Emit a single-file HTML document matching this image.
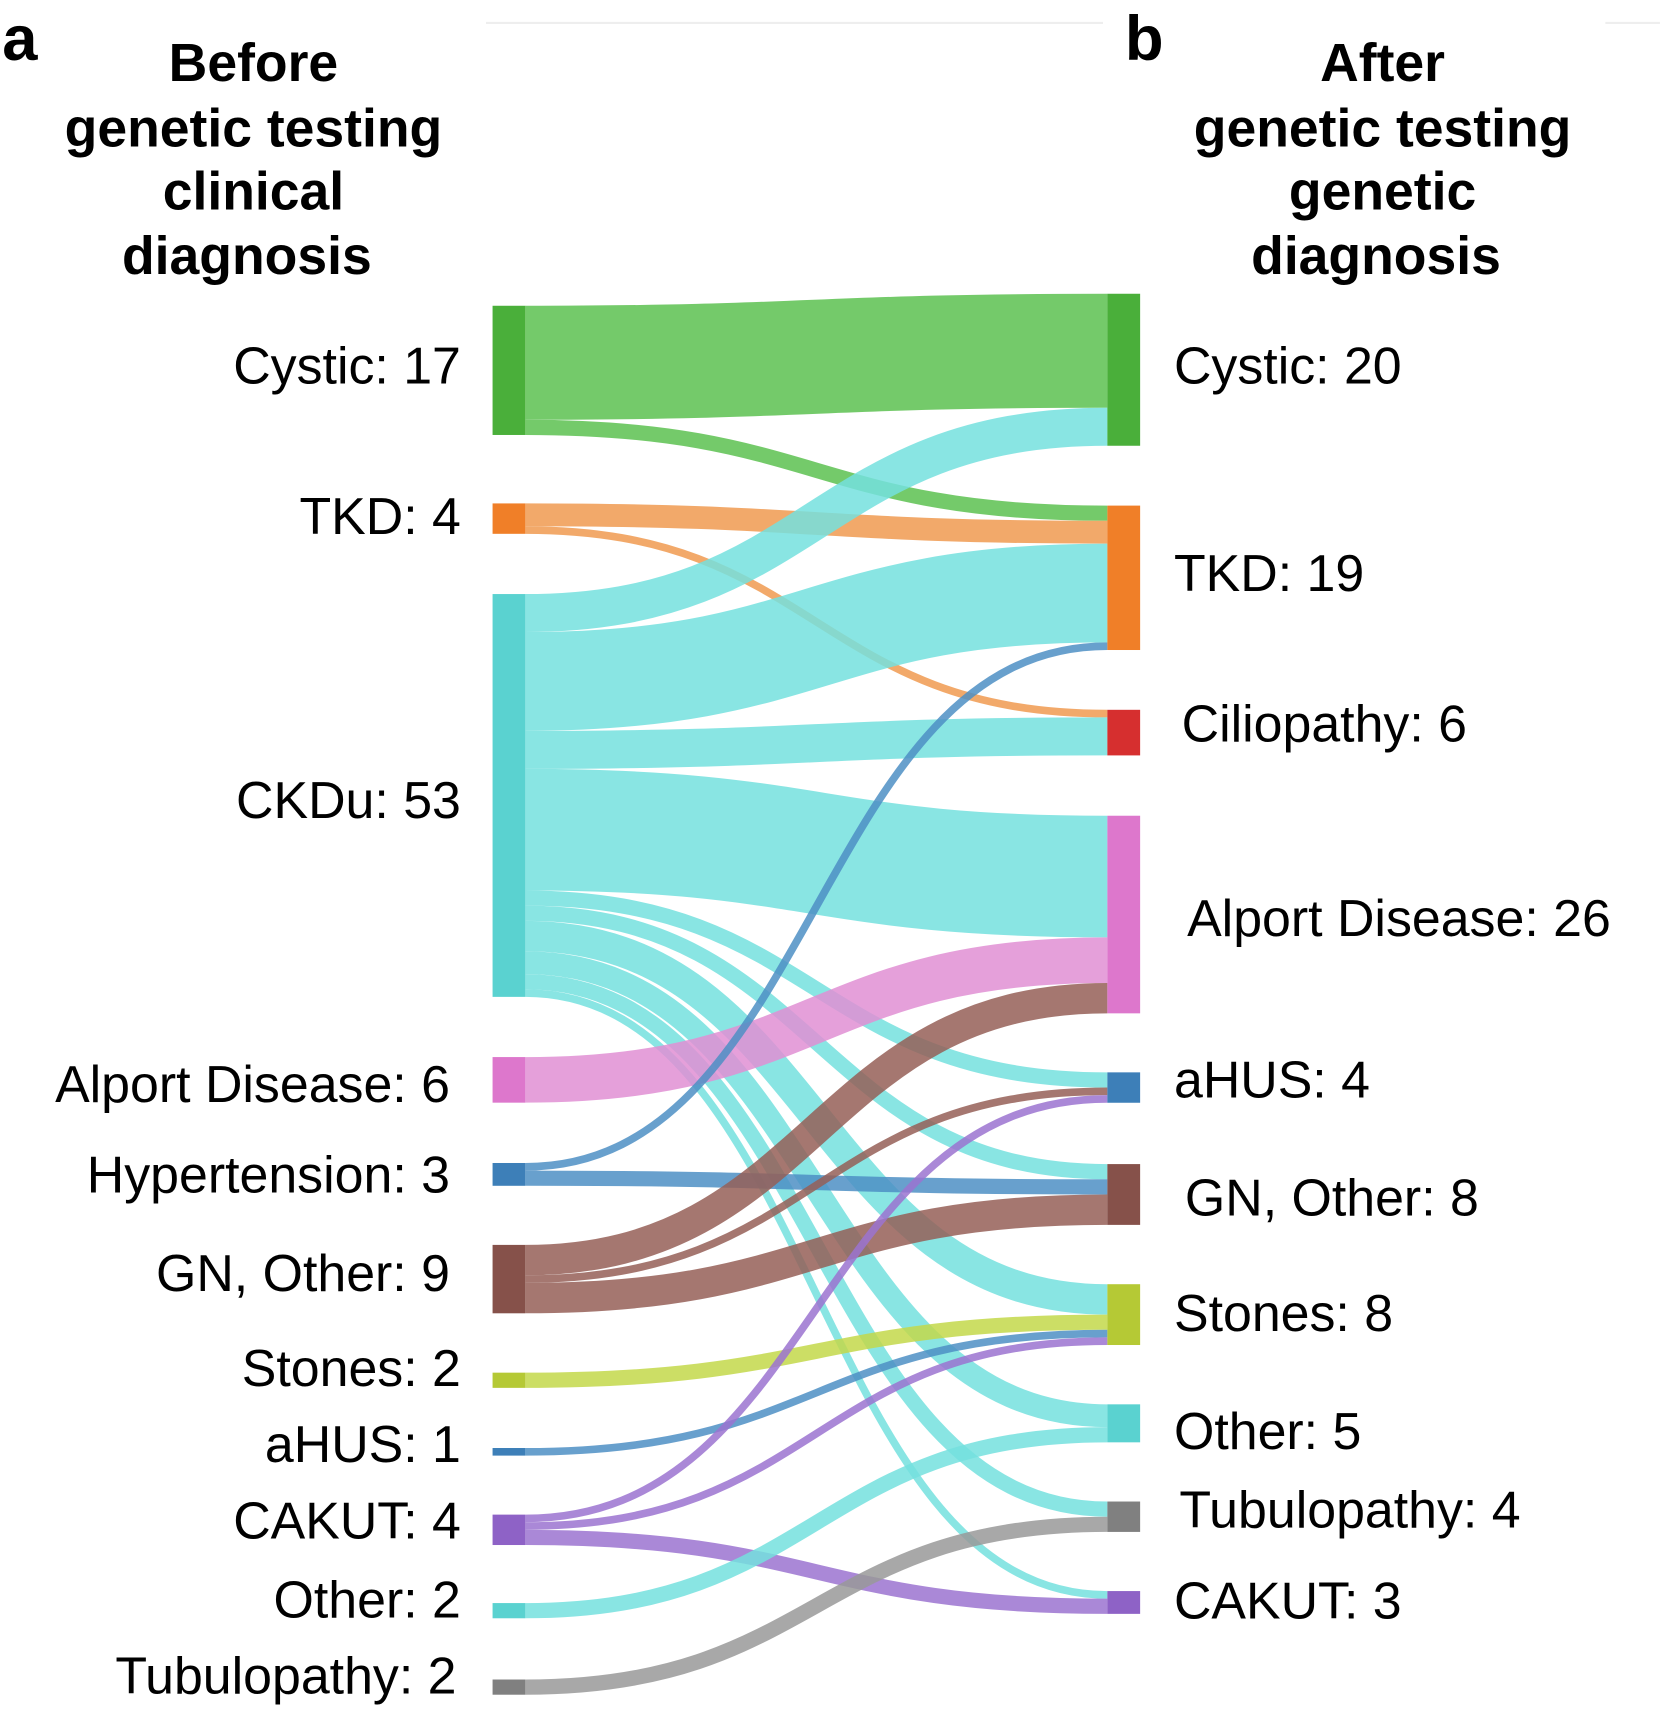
<!DOCTYPE html>
<html><head><meta charset="utf-8"><style>
html,body{margin:0;padding:0;background:#fff;}
svg{display:block;font-family:"Liberation Sans",sans-serif;}
</style></head><body>
<svg id="chart" width="1660" height="1709" viewBox="0 0 1520 1565" xmlns="http://www.w3.org/2000/svg">
<line x1="445" y1="21" x2="1010" y2="21" stroke="#eee" stroke-width="2"/>
<line x1="1470" y1="21" x2="1520" y2="21" stroke="#eee" stroke-width="2"/>
<text x="2" y="55" font-size="58" font-weight="bold">a</text>
<text x="1030" y="55" font-size="58" font-weight="bold">b</text>
<g font-size="49" font-weight="bold" text-anchor="middle">
<text x="232" y="74">Before</text><text x="232" y="134">genetic testing</text><text x="232" y="192">clinical</text><text x="226" y="251">diagnosis</text></g>
<g font-size="49" font-weight="bold" text-anchor="middle">
<text x="1266" y="74">After</text><text x="1266" y="134">genetic testing</text><text x="1266" y="192">genetic</text><text x="1260" y="251">diagnosis</text></g>
<g id="links"></g><g id="nodes"></g><g id="labels" font-size="47.5"></g>
</svg>
<script>
const leftNames=["Cystic","TKD","CKDu","Alport Disease","Hypertension","GN, Other","Stones","aHUS","CAKUT","Other","Tubulopathy"];
const leftValues=[17,4,53,6,3,9,2,1,4,2,2];
const rightNames=["Cystic","TKD","Ciliopathy","Alport Disease","aHUS","GN, Other","Stones","Other","Tubulopathy","CAKUT"];
const rightValues=[20,19,6,26,4,8,8,5,4,3];
const linkSource=[0,0,1,1,2,2,2,2,2,2,2,2,2,2,3,4,4,5,5,5,6,7,8,8,8,9,10];
const linkTarget=[0,1,1,2,0,1,2,3,4,5,6,7,8,9,3,1,5,3,4,5,6,6,4,6,9,7,8];
const linkValue=[15,2,3,1,5,13,5,16,2,2,4,3,2,1,6,1,2,4,1,4,2,1,1,1,2,2,2];
const leftTops=[280,461,544,968,1065,1140,1257,1326,1387,1468,1538];
const rightTops=[269,463,650,747,982,1066,1176,1286,1375,1457];
const leftColors=["#4aaf3a","#f07f28","#5ad2d0","#dd77cc","#3d7fb8","#86514a","#b5c935","#3d7fb8","#8e62c6","#5ad2d0","#808080"];
const rightColors=["#4aaf3a","#f07f28","#d62f2f","#dd77cc","#3d7fb8","#86514a","#b5c935","#5ad2d0","#808080","#8e62c6"];
const linkColors=["#5cc150","#f09a50","#74e0de","#e18fd4","#4d8fc4","#955f57","#c3d84a","#4d8fc4","#9b73d0","#74e0de","#999999"];
const U=6.96, LX=451, RX=1014, NW=30;
const NS="http://www.w3.org/2000/svg";
const gL=document.getElementById('links'),gN=document.getElementById('nodes'),gT=document.getElementById('labels');
const lOff=leftValues.map(()=>0), rOff=rightValues.map(()=>0);
const idx=linkValue.map((_,i)=>i);
const srcY={},tgtY={};
idx.slice().sort((a,b)=>linkSource[a]-linkSource[b]||linkTarget[a]-linkTarget[b]).forEach(i=>{
  const s=linkSource[i];srcY[i]=leftTops[s]+(lOff[s]+linkValue[i]/2)*U;lOff[s]+=linkValue[i];});
idx.slice().sort((a,b)=>linkTarget[a]-linkTarget[b]||linkSource[a]-linkSource[b]).forEach(i=>{
  const t=linkTarget[i];tgtY[i]=rightTops[t]+(rOff[t]+linkValue[i]/2)*U;rOff[t]+=linkValue[i];});
idx.forEach(i=>{
  const p=document.createElementNS(NS,'path');
  const x0=LX+NW,x1=RX,xm=(x0+x1)/2,y0=srcY[i],y1=tgtY[i];
  p.setAttribute('d',`M${x0},${y0}C${xm},${y0} ${xm},${y1} ${x1},${y1}`);
  p.setAttribute('fill','none');p.setAttribute('stroke',linkColors[linkSource[i]]);
  p.setAttribute('stroke-width',linkValue[i]*U);p.setAttribute('stroke-opacity','0.85');
  
  
  gL.appendChild(p);
});
const lblL=[[422,351],[422,489],[422,749],[412,1009],[412,1092],[412,1182],[422,1269],[422,1339],[422,1409],[422,1481],[418,1551]];
const lblR=[[1075,351],[1075,541],[1082,679],[1087,857],[1075,1005],[1085,1113],[1075,1219],[1075,1327],[1080,1399],[1075,1482]];
leftNames.forEach((n,i)=>{
  const r=document.createElementNS(NS,'rect');
  r.setAttribute('x',LX);r.setAttribute('y',leftTops[i]);r.setAttribute('width',NW);r.setAttribute('height',leftValues[i]*U);
  r.setAttribute('fill',leftColors[i]);
  
  
  gN.appendChild(r);
  const t=document.createElementNS(NS,'text');
  t.setAttribute('x',lblL[i][0]);t.setAttribute('y',lblL[i][1]);t.setAttribute('text-anchor','end');
  t.textContent=n+': '+leftValues[i];
  
  
  gT.appendChild(t);
});
rightNames.forEach((n,i)=>{
  const r=document.createElementNS(NS,'rect');
  r.setAttribute('x',RX);r.setAttribute('y',rightTops[i]);r.setAttribute('width',NW);r.setAttribute('height',rightValues[i]*U);
  r.setAttribute('fill',rightColors[i]);
  
  
  gN.appendChild(r);
  const t=document.createElementNS(NS,'text');
  t.setAttribute('x',lblR[i][0]);t.setAttribute('y',lblR[i][1]);
  t.textContent=n+': '+rightValues[i];
  
  
  gT.appendChild(t);
});
</script>
</body></html>
